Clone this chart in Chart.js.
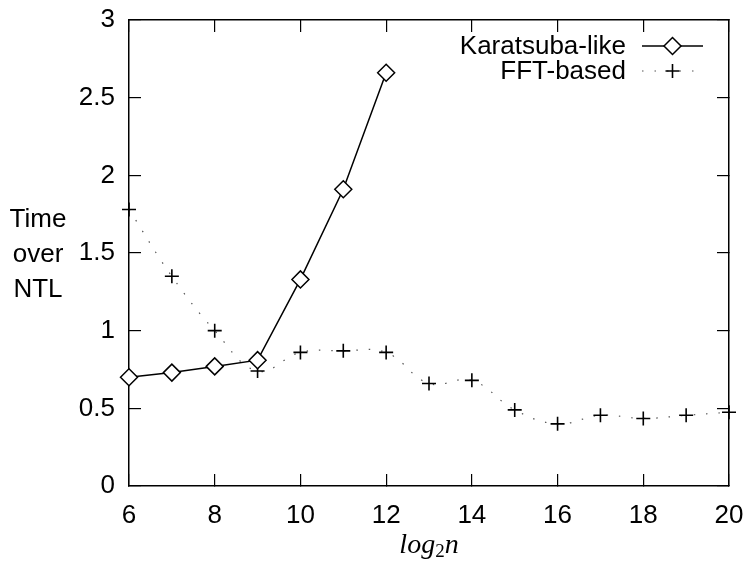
<!DOCTYPE html>
<html>
<head>
<meta charset="utf-8">
<script src="https://cdn.jsdelivr.net/npm/chart.js@4.4.1/dist/chart.umd.min.js"></script>
<style>
  html, body { margin: 0; padding: 0; background: #fff; }
  #wrap { width: 751px; height: 565px; }
</style>
</head>
<body>
<div id="wrap"><canvas id="chart"></canvas></div>
<script>
// values
const karatsubaN = [6, 7, 8, 9, 10, 11, 12];
const karatsubaTime = [0.70, 0.73, 0.77, 0.81, 1.33, 1.91, 2.66];
const fftN = [6, 7, 8, 9, 10, 11, 12, 13, 14, 15, 16, 17, 18, 19, 20];
const fftTime = [1.78, 1.35, 1.00, 0.74, 0.86, 0.87, 0.86, 0.66, 0.68, 0.49, 0.40, 0.455, 0.435, 0.455, 0.475];
const seriesNames = ['Karatsuba-like', 'FFT-based'];
const yTitleLines = ['Time', 'over', 'NTL'];

const FONT = "'Liberation Sans', Arial, Helvetica, sans-serif";
Chart.defaults.font.family = FONT;
Chart.defaults.color = '#000';

function toPoints(xs, ys) {
  return xs.map((x, i) => ({x: x, y: ys[i]}));
}

// fixes the box size and drops the label overflow padding, so the plot sits where it should
function fixSize(w, h) {
  return scale => {
    if (w !== null) scale.width = w;
    if (h !== null) scale.height = h;
    scale.paddingTop = 0;
    scale.paddingBottom = 0;
    scale.paddingLeft = 0;
    scale.paddingRight = 0;
  };
}

// legend drawn gnuplot style: text on the left, sample on the right
const sideText = {
  id: 'sideText',
  afterDraw(chart) {
    const {ctx, chartArea} = chart;
    ctx.save();
    ctx.fillStyle = '#000';

    // y title, three horizontal lines
    ctx.font = '26px ' + FONT;
    ctx.textAlign = 'center';
    ctx.textBaseline = 'alphabetic';
    yTitleLines.forEach((line, i) => {
      ctx.fillText(line, chartArea.left - 91, 227 + i * 35);
    });

    // x title: log_2 n
    ctx.textAlign = 'left';
    const mainFont = "italic 28px 'Liberation Serif', 'Times New Roman', serif";
    const subFont = "19px 'Liberation Serif', 'Times New Roman', serif";
    ctx.font = mainFont;
    const w1 = ctx.measureText('log').width;
    const w3 = ctx.measureText('n').width;
    ctx.font = subFont;
    const w2 = ctx.measureText('2').width;
    let x = (chartArea.left + chartArea.right) / 2 - (w1 + w2 + w3) / 2;
    const base = 553;
    ctx.font = mainFont;
    ctx.fillText('log', x, base);
    x += w1;
    ctx.font = subFont;
    ctx.fillText('2', x, base + 4);
    x += w2;
    ctx.font = mainFont;
    ctx.fillText('n', x, base);

    // legend
    ctx.font = '26px ' + FONT;
    ctx.textAlign = 'right';
    ctx.textBaseline = 'middle';
    const textRight = chartArea.right - 103;
    const x0 = chartArea.right - 87, x1 = chartArea.right - 26, xm = (x0 + x1) / 2;
    chart.data.datasets.forEach((ds, i) => {
      const y = chartArea.top + 26 + i * 25;
      ctx.fillStyle = '#000';
      ctx.fillText(ds.label, textRight, y + 1);
      ctx.beginPath();
      ctx.setLineDash(ds.borderDash || []);
      ctx.lineWidth = ds.borderWidth;
      ctx.strokeStyle = ds.borderColor;
      ctx.moveTo(x0, y);
      ctx.lineTo(x1, y);
      ctx.stroke();
      ctx.setLineDash([]);
      ctx.lineWidth = ds.pointBorderWidth;
      ctx.strokeStyle = ds.pointBorderColor;
      ctx.fillStyle = ds.pointBackgroundColor;
      Chart.helpers.drawPoint(ctx, {pointStyle: ds.pointStyle, radius: ds.pointRadius, rotation: 0, borderWidth: ds.pointBorderWidth}, xm, y);
    });
    ctx.restore();
  }
};

const tickFont = {size: 26, family: FONT};
const frameGrid = {drawOnChartArea: false, tickLength: -12, color: '#000', lineWidth: 1.2};
const frameBorder = {display: true, color: '#000', width: 1.5};

new Chart(document.getElementById('chart'), {
  type: 'line',
  data: {
    datasets: [{
      label: seriesNames[0],
      data: toPoints(karatsubaN, karatsubaTime),
      borderColor: '#000',
      borderWidth: 1.5,
      tension: 0,
      pointStyle: 'rectRot',
      pointRadius: 8.5,
      pointBorderWidth: 1.5,
      pointBorderColor: '#000',
      pointBackgroundColor: '#fff',
      clip: false
    }, {
      label: seriesNames[1],
      data: toPoints(fftN, fftTime),
      borderColor: '#555',
      borderWidth: 1.2,
      borderDash: [1.5, 11],
      tension: 0.4,
      pointStyle: 'cross',
      pointRadius: 7,
      pointBorderWidth: 1.6,
      pointBorderColor: '#000',
      pointBackgroundColor: '#000',
      clip: false
    }]
  },
  options: {
    responsive: true,
    maintainAspectRatio: false,
    animation: false,
    layout: {padding: {left: 0, right: 22, top: 20, bottom: 0}},
    plugins: {
      legend: {display: false},
      tooltip: {enabled: false}
    },
    scales: {
      x: {
        type: 'linear', position: 'bottom', min: 6, max: 20,
        ticks: {stepSize: 2, font: tickFont, padding: 26, color: '#000'},
        grid: frameGrid,
        border: frameBorder,
        afterFit: fixSize(null, 79)
      },
      x2: {
        type: 'linear', position: 'top', min: 6, max: 20,
        ticks: {stepSize: 2, display: false},
        grid: frameGrid,
        border: frameBorder,
        afterFit: fixSize(null, 0)
      },
      y: {
        type: 'linear', position: 'left', min: 0, max: 3,
        ticks: {stepSize: 0.5, font: tickFont, padding: 26, color: '#000', callback: v => String(v)},
        grid: frameGrid,
        border: frameBorder,
        afterFit: fixSize(129, null)
      },
      y2: {
        type: 'linear', position: 'right', min: 0, max: 3,
        ticks: {stepSize: 0.5, display: false},
        grid: frameGrid,
        border: frameBorder,
        afterFit: fixSize(0, null)
      }
    }
  },
  plugins: [sideText]
});
</script>
</body>
</html>
